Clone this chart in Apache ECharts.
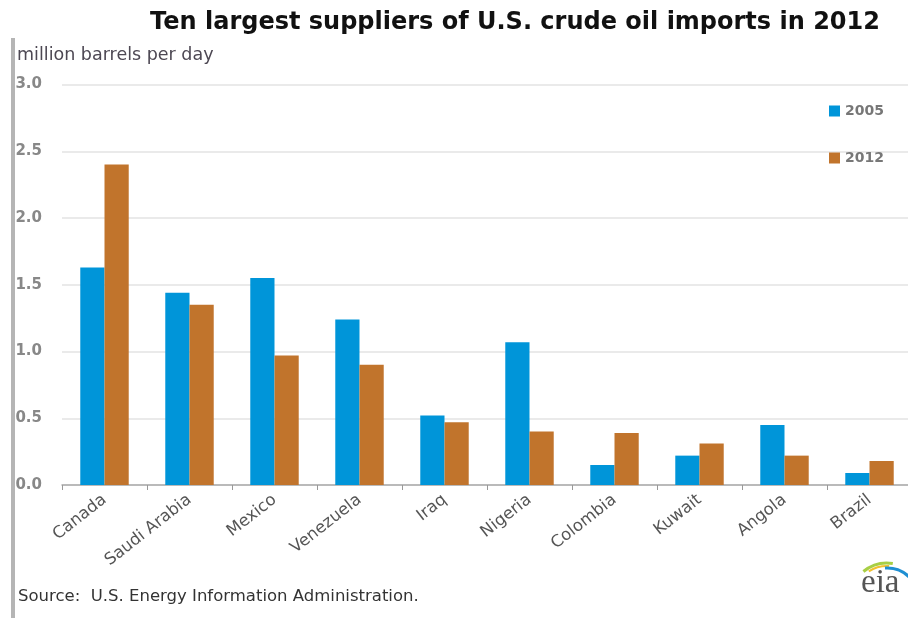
<!DOCTYPE html>
<html>
<head>
<meta charset="utf-8">
<script src="https://cdn.jsdelivr.net/npm/echarts@6/dist/echarts.min.js"></script>
<style>html,body{margin:0;padding:0;background:#fff;}#c{width:908px;height:618px;}</style>
</head>
<body>
<div id="c"></div>
<script>
const categories = ['Canada','Saudi Arabia','Mexico','Venezuela','Iraq','Nigeria','Colombia','Kuwait','Angola','Brazil'];
const values2005 = [1.63, 1.44, 1.55, 1.24, 0.52, 1.07, 0.15, 0.22, 0.45, 0.09];
const values2012 = [2.40, 1.35, 0.97, 0.90, 0.47, 0.40, 0.39, 0.31, 0.22, 0.18];
const yTicks = [0, 0.5, 1.0, 1.5, 2.0, 2.5, 3.0];

const chart = echarts.init(document.getElementById('c'), null, {renderer: 'canvas'});
chart.setOption({
  backgroundColor: '#fff',
  animation: false,
  title: {
    text: 'Ten largest suppliers of U.S. crude oil imports in 2012',
    left: 510, textAlign: 'center', top: 6,
    textStyle: {fontFamily: 'DejaVu Sans', fontWeight: 'bold', fontSize: 24, color: '#111'}
  },
  legend: {
    orient: 'vertical', left: 824, top: 99, itemGap: 33,
    itemWidth: 11, itemHeight: 11, icon: 'rect',
    data: ['2005', '2012'],
    textStyle: {fontFamily: 'DejaVu Sans', fontSize: 14, fontWeight: 'bold', color: '#777'}
  },
  grid: {left: 62, top: 84.5, width: 850, height: 400.5, outerBoundsMode: 'none', containLabel: false},
  xAxis: {
    type: 'category', data: categories,
    axisLine: {lineStyle: {color: '#aaa', width: 1.5}},
    axisTick: {show: true, alignWithLabel: false, length: 5, lineStyle: {color: '#999'}},
    axisLabel: {rotate: 38, interval: 0, margin: 13, fontFamily: 'DejaVu Sans', fontSize: 16.5, color: '#555'}
  },
  yAxis: {
    type: 'value', min: 0, max: 3, interval: 0.5,
    axisLine: {show: false}, axisTick: {show: false},
    splitLine: {lineStyle: {color: '#e3e3e3', width: 1.5}},
    axisLabel: {
      margin: 20,
      fontFamily: 'DejaVu Sans', fontSize: 15, fontWeight: 'bold', color: '#888',
      formatter: v => yTicks.includes(v) ? v.toFixed(1) : ''
    }
  },
  series: [
    {name: '2005', type: 'bar', data: values2005, barGap: '0%', barCategoryGap: '43%', itemStyle: {color: '#0095d9'}},
    {name: '2012', type: 'bar', data: values2012, itemStyle: {color: '#c1742c'}}
  ],
  graphic: [
    {type: 'rect', shape: {x: 11, y: 38, width: 4, height: 580}, style: {fill: '#b5b5b5'}},
    {type: 'text', left: 17, top: 46, style: {text: 'million barrels per day', font: '17.5px "DejaVu Sans"', fill: '#4d4853'}},
    {type: 'text', left: 18, top: 588, style: {text: 'Source:  U.S. Energy Information Administration.', font: '16.5px "DejaVu Sans"', fill: '#333'}},
    {type: 'text', left: 861, top: 567, style: {text: 'eia', font: '33px "Liberation Serif", "DejaVu Serif", serif', fill: '#555'}},
    {type: 'arc', shape: {cx: 887, cy: 600, r: 37, startAngle: Math.PI*1.28, endAngle: Math.PI*1.55}, style: {stroke: '#a8cf45', lineWidth: 3, fill: null}},
    {type: 'arc', shape: {cx: 887, cy: 600, r: 34, startAngle: Math.PI*1.32, endAngle: Math.PI*1.52}, style: {stroke: '#f2c12e', lineWidth: 2, fill: null}},
    {type: 'arc', shape: {cx: 887, cy: 600, r: 32, startAngle: Math.PI*1.48, endAngle: Math.PI*1.75}, style: {stroke: '#1f8fd2', lineWidth: 3, fill: null}}
  ]
});
</script>
</body>
</html>
